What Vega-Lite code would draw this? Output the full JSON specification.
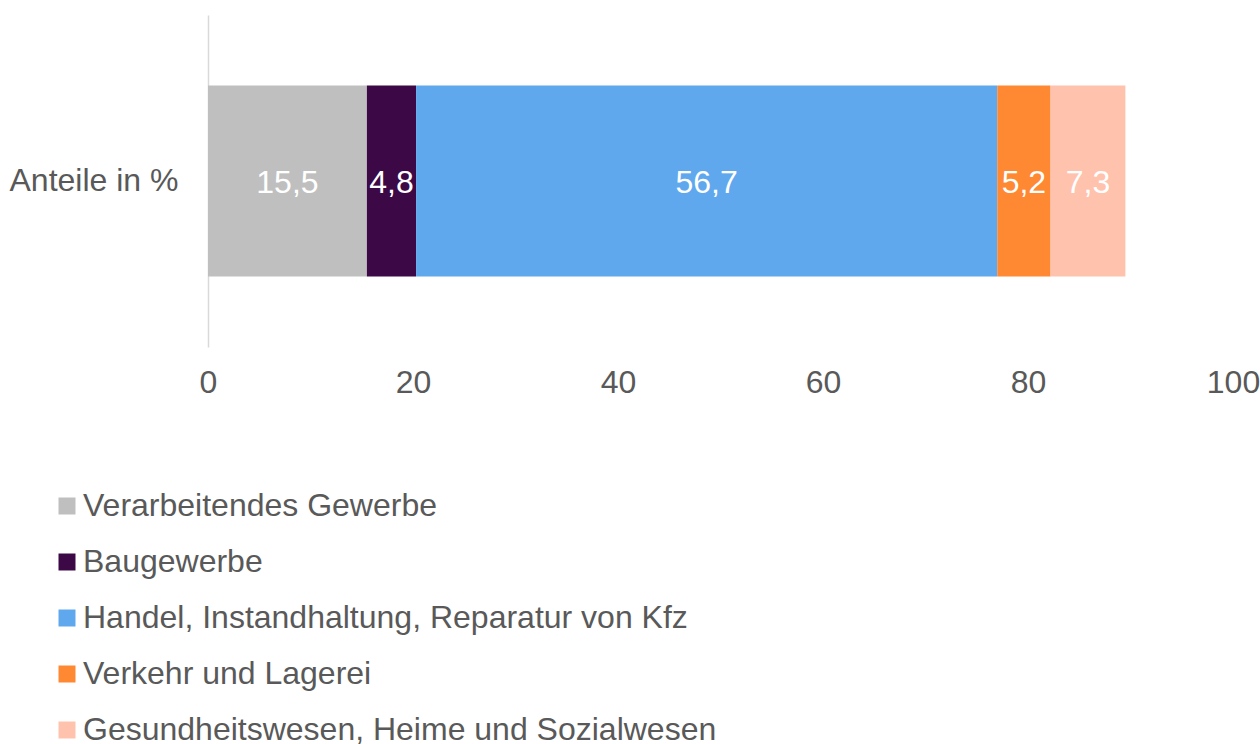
{
  "$schema": "https://vega.github.io/schema/vega-lite/v6.json",
  "width": 1025,
  "height": 332,
  "autosize": "none",
  "padding": {"left": 208, "top": 15, "right": 27, "bottom": 397},
  "background": "white",
  "config": {
    "font": "Liberation Sans",
    "view": {"stroke": null},
    "locale": {"number": {"decimal": ",", "thousands": ".", "grouping": [3], "currency": ["", " €"]}}
  },
  "data": {
    "values": [
      {"kategorie": "Verarbeitendes Gewerbe", "wert": 15.5, "reihe": 1, "gruppe": "Anteile in %"},
      {"kategorie": "Baugewerbe", "wert": 4.8, "reihe": 2, "gruppe": "Anteile in %"},
      {"kategorie": "Handel, Instandhaltung, Reparatur von Kfz", "wert": 56.7, "reihe": 3, "gruppe": "Anteile in %"},
      {"kategorie": "Verkehr und Lagerei", "wert": 5.2, "reihe": 4, "gruppe": "Anteile in %"},
      {"kategorie": "Gesundheitswesen, Heime und Sozialwesen", "wert": 7.3, "reihe": 5, "gruppe": "Anteile in %"}
    ]
  },
  "transform": [
    {"stack": "wert", "groupby": ["gruppe"], "sort": [{"field": "reihe", "order": "ascending"}], "as": ["v0", "v1"]},
    {"calculate": "(datum.v0 + datum.v1) / 2", "as": "mitte"}
  ],
  "encoding": {
    "y": {
      "field": "gruppe",
      "type": "nominal",
      "title": null,
      "scale": {"paddingInner": 0, "paddingOuter": 0.37},
      "axis": {
        "domain": true,
        "domainColor": "#D9D9D9",
        "domainWidth": 1.5,
        "ticks": false,
        "labelFontSize": 32,
        "labelColor": "#595959",
        "labelPadding": 30,
        "labelFont": "Liberation Sans",
        "labelLimit": 300
      }
    }
  },
  "layer": [
    {
      "mark": {"type": "bar"},
      "encoding": {
        "x": {
          "field": "v0",
          "type": "quantitative",
          "title": null,
          "scale": {"domain": [0, 100], "nice": false},
          "axis": {
            "values": [0, 20, 40, 60, 80, 100],
            "domain": false,
            "ticks": false,
            "grid": false,
            "labelFontSize": 32,
            "labelColor": "#595959",
            "labelPadding": 20,
            "labelFlush": false,
            "labelOverlap": false,
            "format": "d"
          }
        },
        "x2": {"field": "v1"},
        "color": {
          "field": "kategorie",
          "type": "nominal",
          "sort": ["Verarbeitendes Gewerbe", "Baugewerbe", "Handel, Instandhaltung, Reparatur von Kfz", "Verkehr und Lagerei", "Gesundheitswesen, Heime und Sozialwesen"],
          "scale": {
            "domain": ["Verarbeitendes Gewerbe", "Baugewerbe", "Handel, Instandhaltung, Reparatur von Kfz", "Verkehr und Lagerei", "Gesundheitswesen, Heime und Sozialwesen"],
            "range": ["#BFBFBF", "#3C0845", "#5FA8EE", "#FF8833", "#FFC2AD"]
          },
          "legend": {
            "title": null,
            "orient": "none",
            "legendX": -157,
            "legendY": 475,
            "direction": "vertical",
            "symbolType": "square",
            "symbolSize": 289,
            "symbolStrokeWidth": 0,
            "labelFontSize": 32,
            "labelColor": "#595959",
            "labelOffset": 0,
            "labelLimit": 900,
            "rowPadding": 24
          }
        }
      }
    },
    {
      "mark": {"type": "text", "color": "white", "fontSize": 32, "baseline": "middle", "align": "center", "dy": 2},
      "encoding": {
        "x": {"field": "mitte", "type": "quantitative"},
        "text": {"field": "wert", "type": "quantitative", "format": ".1f"}
      }
    }
  ]
}
